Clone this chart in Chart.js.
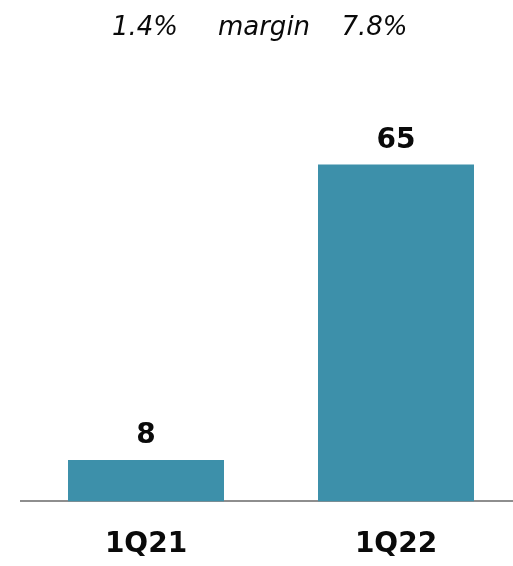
<!DOCTYPE html>
<html>
<head>
<meta charset="utf-8">
<script src="https://cdn.jsdelivr.net/npm/chart.js@4/dist/chart.umd.min.js"></script>
<style>
    html, body { margin: 0; padding: 0; background: #fff; overflow: hidden; }
    #wrap { width: 513px; height: 566px; overflow: hidden; }
    canvas { display: block; }
</style>
</head>
<body>
<div id="wrap"><canvas id="grafica" width="530" height="594"></canvas></div>
<script>
const periodos = ['1Q21', '1Q22'];
const valores = [8, 65];
const margenes = ['1.4%', 'margin', '7.8%'];

// fila de margen encima del grafico
const margenPlugin = {
    id: 'margen',
    afterDraw(chart) {
        const ctx = chart.ctx;
        const posX = [145, 264, 374.5];
        ctx.save();
        ctx.font = 'italic 26px "DejaVu Sans"';
        ctx.fillStyle = '#0a0a0a';
        ctx.textAlign = 'center';
        ctx.textBaseline = 'alphabetic';
        margenes.forEach((txt, i) => ctx.fillText(txt, posX[i], 35));
        ctx.restore();
    }
};

// valor encima de cada barra
const etiquetasPlugin = {
    id: 'etiquetas',
    afterDatasetsDraw(chart) {
        const ctx = chart.ctx;
        const meta = chart.getDatasetMeta(0);
        ctx.save();
        ctx.font = 'bold 28px "DejaVu Sans"';
        ctx.fillStyle = '#0a0a0a';
        ctx.textAlign = 'center';
        ctx.textBaseline = 'alphabetic';
        meta.data.forEach((bar, i) => {
            ctx.fillText(String(valores[i]), bar.x, bar.y - 17);
        });
        ctx.restore();
    }
};

const ctx = document.getElementById('grafica').getContext('2d');

new Chart(ctx, {
    type: 'bar',
    data: {
        labels: periodos,
        datasets: [{
            data: valores,
            backgroundColor: '#3d90aa',
            barPercentage: 0.624,
            categoryPercentage: 1
        }]
    },
    options: {
        responsive: false,
        animation: false,
        layout: { padding: { top: 61, bottom: 5, left: 21, right: 9 } },
        plugins: {
            legend: { display: false },
            tooltip: { enabled: false }
        },
        scales: {
            x: {
                grid: { display: false, drawTicks: false },
                border: { display: true, color: '#8e8e8e', width: 2 },
                ticks: {
                    color: '#0a0a0a',
                    padding: 27,
                    font: { family: 'DejaVu Sans', size: 28, weight: 'bold' }
                }
            },
            y: {
                display: false,
                min: 0,
                max: 85
            }
        }
    },
    plugins: [margenPlugin, etiquetasPlugin]
});
</script>
</body>
</html>
